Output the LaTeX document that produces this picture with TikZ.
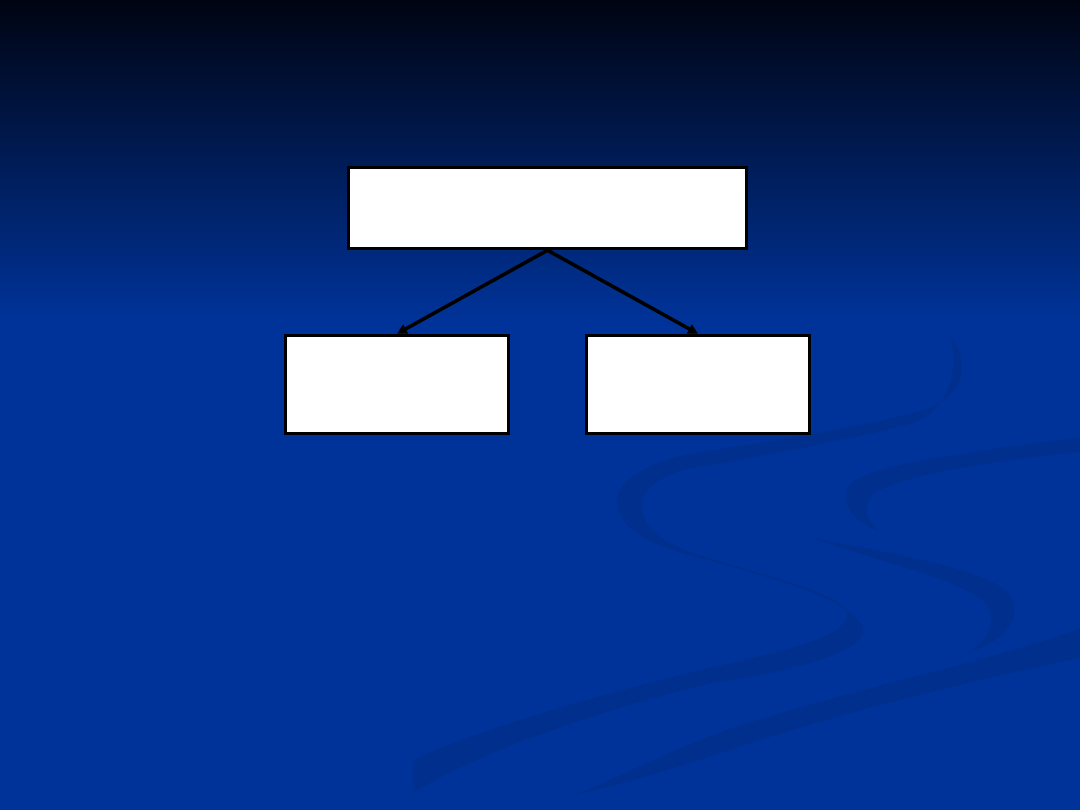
\documentclass[tikz,border=0pt]{standalone}
\usepackage{xcolor}
\usepackage{tikz}
\usetikzlibrary{arrows.meta,positioning}

\definecolor{slideblue}{RGB}{0,51,153}
\definecolor{swirlblue}{RGB}{0,47,141}
\definecolor{topdark}{RGB}{0,4,18}

\begin{document}
\begin{tikzpicture}[x=0.025cm,y=-0.025cm,node distance=4.41cm and 3.76cm,on grid,
   box/.style={draw=black,fill=white,line width=2.5pt,inner sep=0pt},
   link/.style={-{Triangle[length=7pt,width=7pt]},line width=2.5pt}]
   \useasboundingbox (0,0) rectangle (1080,810);
   % background
   \fill[slideblue] (0,0) rectangle (1080,810);
   \shade[top color=topdark,bottom color=slideblue] (0,0) rectangle (1080,320);
   % swirls
   \fill[swirlblue] (948,332) .. controls (972,362) and (968,400) .. (915,412)
      .. controls (850,430) and (740,446) .. (700,452)
      .. controls (640,462) and (615,485) .. (617,503)
      .. controls (620,530) and (650,545) .. (700,558)
      .. controls (780,580) and (850,600) .. (863,627)
      .. controls (870,650) and (800,670) .. (713,683)
      .. controls (640,700) and (500,740) .. (413,793)
      -- (413,760)
      .. controls (500,720) and (640,685) .. (713,667)
      .. controls (790,650) and (850,635) .. (847,613)
      .. controls (845,595) and (780,580) .. (700,555)
      .. controls (660,543) and (640,525) .. (642,503)
      .. controls (645,480) and (680,470) .. (700,467)
      .. controls (760,456) and (850,440) .. (910,424)
      .. controls (950,412) and (962,365) .. (948,332) -- cycle;
   \fill[swirlblue] (1080,437) .. controls (1000,448) and (880,462) .. (852,482)
      .. controls (838,496) and (845,518) .. (880,532)
      .. controls (865,520) and (860,500) .. (880,490)
      .. controls (920,470) and (1010,460) .. (1080,452) -- cycle;
   \fill[swirlblue] (810,537) .. controls (880,552) and (990,568) .. (1010,595)
      .. controls (1025,620) and (1000,645) .. (967,652)
      .. controls (990,640) and (998,620) .. (985,603)
      .. controls (960,578) and (870,560) .. (810,537) -- cycle;
   \fill[swirlblue] (1080,628) .. controls (1000,660) and (800,700) .. (700,740)
      .. controls (640,765) and (600,785) .. (575,795)
      .. controls (640,780) and (700,760) .. (760,740)
      .. controls (880,702) and (1000,675) .. (1080,658) -- cycle;
   % boxes
   \node[box,minimum width=9.95cm,minimum height=2.025cm] (top) at (547.5,208) {};
   \node[box,minimum width=5.575cm,minimum height=2.45cm] (left) [below left=of top] {};
   \node[box,minimum width=5.575cm,minimum height=2.45cm] (right) [below right=of top] {};
   \path[link]
    (top.south) edge (left.north)
                edge (right.north);
\end{tikzpicture}
\end{document}
